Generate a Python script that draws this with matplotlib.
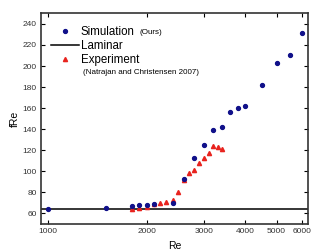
import matplotlib
matplotlib.use('Agg')
import matplotlib.pyplot as plt
from matplotlib.ticker import FixedLocator, NullLocator, FixedFormatter

plt.rcParams['font.family'] = ['Liberation Sans', 'DejaVu Sans']

# Simulation (ours)
sim_re = [1000, 1500, 1800, 1900, 2000, 2100, 2400, 2600, 2800, 3000, 3200, 3400,
          3600, 3800, 4000, 4500, 5000, 5500, 6000]
sim_fre = [64, 65, 67, 67.7, 68.4, 69.4, 70.3, 92.5, 112.3, 125.3, 139.6, 142.4,
           156.5, 159.8, 162.2, 182, 202.5, 210.5, 231.5]

# Experiment (Natrajan and Christensen 2007)
exp_re = [1800, 1900, 2000, 2100, 2200, 2300, 2400, 2500, 2600, 2700, 2800, 2900,
          3000, 3100, 3200, 3300, 3400]
exp_fre = [64.5, 64.8, 66.5, 68.7, 70, 70.6, 73, 80.3, 91.5, 98.5, 101.5, 107.5,
           112.3, 117.5, 124, 123, 121.5]

laminar = 64
xticks = [1000, 2000, 3000, 4000, 5000, 6000]
yticks = list(range(60, 241, 20))

fig = plt.figure(figsize=(3.31, 2.52), dpi=100)
ax = fig.add_axes([0.124, 0.111, 0.806, 0.836])

ax.plot(sim_re, sim_fre, 'o', color='#10108a', markersize=2.8, label='Simulation', zorder=3)
ax.axhline(laminar, color='black', lw=1.1, label='Laminar', zorder=1)
ax.plot(exp_re, exp_fre, '^', color='#e8231e', markersize=3.0, label='Experiment', zorder=2)

ax.set_xscale('log')
ax.set_xlim(950, 6230)
ax.set_ylim(50, 250)
ax.xaxis.set_major_locator(FixedLocator(xticks))
ax.xaxis.set_major_formatter(FixedFormatter([str(t) for t in xticks]))
ax.xaxis.set_minor_locator(NullLocator())
ax.set_yticks(yticks)
ax.tick_params(direction='in', top=True, right=True, labelsize=6, length=3, width=0.8, pad=3,
               labelcolor='#333333')

for s in ax.spines.values():
    s.set_linewidth(1.2)
    s.set_color('#333333')

ax.set_xlabel('Re', fontsize=7.5, labelpad=4)
ax.set_ylabel('fRe', fontsize=7.5, labelpad=2)

leg = ax.legend(loc='upper left', bbox_to_anchor=(0.02, 0.962), frameon=False, fontsize=8.3,
                handlelength=2.4, handletextpad=0.2, labelspacing=0.16, borderaxespad=0.0,
                markerscale=1.0)
ax.text(0.37, 0.909, '(Ours)', transform=ax.transAxes, fontsize=5.8, va='center')
ax.text(0.157, 0.717, '(Natrajan and Christensen 2007)', transform=ax.transAxes,
        fontsize=5.8, va='center')

fig.savefig('out.png', dpi=100)
